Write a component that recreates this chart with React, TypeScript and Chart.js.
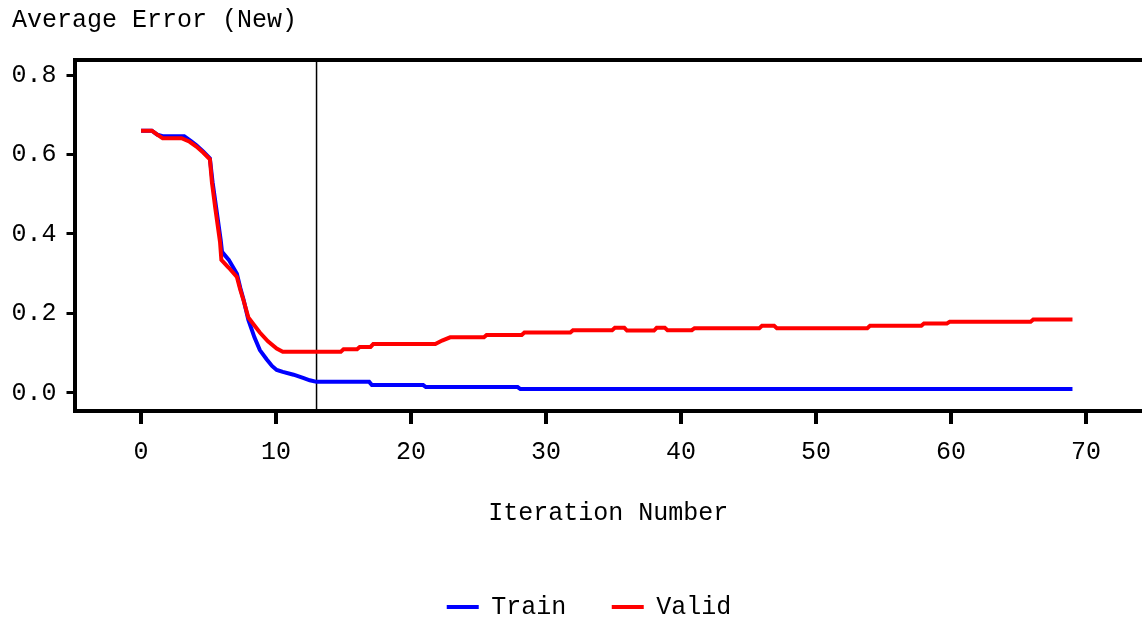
import React, { useEffect, useRef } from "react";
import { Chart, registerables } from "chart.js";

Chart.register(...registerables);

const chartTitle = "Average Error (New)";
const xAxisTitle = "Iteration Number";
const seriesNames = ["Train", "Valid"];
const seriesColors = ["#0000FF", "#FF0000"];

const xTicks = [0, 10, 20, 30, 40, 50, 60, 70];
const yTicks = [0.0, 0.2, 0.4, 0.6, 0.8];
const xRange = [-4.93, 74.15];
const yRange = [-0.0453, 0.839];
const stopIteration = 13;

const trainIter = [
  0, 0.8, 1.2, 1.6, 3.2, 3.7, 4.1, 4.6, 5.1, 5.3, 5.55, 5.9, 6.0, 6.5, 7.1, 7.35, 7.6, 7.95,
  8.4, 8.8, 9.3, 9.7, 10.05, 10.5, 11.3, 12.0, 12.5, 13.0, 16.9, 17.1, 20.9, 21.1, 27.9, 28.1, 69.0,
];
const trainError = [
  0.66, 0.66, 0.65, 0.646, 0.646, 0.634, 0.623, 0.608, 0.59, 0.53, 0.47, 0.385, 0.355, 0.335, 0.3,
  0.265, 0.234, 0.184, 0.14, 0.108, 0.085, 0.068, 0.058, 0.053, 0.046, 0.038, 0.032, 0.028, 0.028,
  0.02, 0.02, 0.015, 0.015, 0.01, 0.01,
];

const validIter = [
  0, 0.8, 1.2, 1.6, 3.0, 3.6, 4.1, 4.6, 5.1, 5.25, 5.5, 5.85, 5.95, 6.5, 7.1, 7.35, 7.6, 7.95, 8.4,
  8.8, 9.4, 10.05, 10.5, 14.8, 15.0, 16.0, 16.2, 17.0, 17.2, 21.8, 22.3, 22.9, 25.4, 25.6, 28.2,
  28.4, 31.8, 32.0, 34.9, 35.1, 35.8, 36.0, 38.0, 38.2, 38.8, 39.0, 40.8, 41.0, 45.8, 46.0, 46.9,
  47.1, 53.8, 54.0, 57.8, 58.0, 59.7, 59.9, 65.9, 66.1, 69.0,
];
const validError = [
  0.66, 0.66, 0.65, 0.641, 0.641, 0.632, 0.62, 0.605, 0.588, 0.53, 0.465, 0.38, 0.335, 0.315,
  0.292, 0.26, 0.232, 0.19, 0.17, 0.152, 0.13, 0.112, 0.104, 0.104, 0.11, 0.11, 0.116, 0.116,
  0.123, 0.123, 0.132, 0.14, 0.14, 0.146, 0.146, 0.152, 0.152, 0.158, 0.158, 0.164, 0.164, 0.157,
  0.157, 0.164, 0.164, 0.158, 0.158, 0.163, 0.163, 0.169, 0.169, 0.163, 0.163, 0.169, 0.169,
  0.175, 0.175, 0.179, 0.179, 0.185, 0.185,
];

const FONT = "'Liberation Mono', 'DejaVu Sans Mono', monospace";

const markerLine = {
  id: "markerLine",
  beforeDatasetsDraw(chart: any) {
    const { ctx, chartArea, scales } = chart;
    const px = scales.x.getPixelForValue(stopIteration);
    ctx.save();
    ctx.strokeStyle = "#000";
    ctx.lineWidth = 1.5;
    ctx.beginPath();
    ctx.moveTo(px, chartArea.top);
    ctx.lineTo(px, chartArea.bottom);
    ctx.stroke();
    ctx.restore();
  },
};

export default function App() {
  const ref = useRef<HTMLCanvasElement>(null);
  useEffect(() => {
    if (!ref.current) return;
    const toPts = (xs: number[], ys: number[]) => xs.map((x, i) => ({ x, y: ys[i] }));
    const chart = new Chart(ref.current, {
      type: "line",
      data: {
        datasets: [
          {
            label: seriesNames[0],
            data: toPts(trainIter, trainError),
            borderColor: seriesColors[0],
            backgroundColor: seriesColors[0],
            borderWidth: 4,
            pointRadius: 0,
            tension: 0,
            order: 1,
          },
          {
            label: seriesNames[1],
            data: toPts(validIter, validError),
            borderColor: seriesColors[1],
            backgroundColor: seriesColors[1],
            borderWidth: 4,
            pointRadius: 0,
            tension: 0,
            order: 0,
          },
        ],
      },
      options: {
        animation: false,
        responsive: false,
        events: [],
        layout: { padding: { left: 12, right: -24, top: 0, bottom: -11.5 } },
        scales: {
          x: {
            type: "linear",
            position: "bottom",
            min: xRange[0],
            max: xRange[1],
            afterBuildTicks: (s: any) => {
              s.ticks = xTicks.map((v) => ({ value: v }));
            },
            afterFit: (s: any) => {
              s.height = 138;
            },
            grid: { drawOnChartArea: false, color: "#000", lineWidth: 4, tickLength: 13 },
            border: { display: true, color: "#000", width: 4 },
            ticks: {
              color: "#000",
              font: { family: FONT, size: 25 },
              padding: 13.5,
              maxRotation: 0,
              autoSkip: false,
              callback: (v: any) => String(v),
            },
            title: {
              display: true,
              text: xAxisTitle,
              color: "#000",
              font: { family: FONT, size: 25 },
              padding: { top: 0, bottom: 21 },
            },
          },
          x2: {
            type: "linear",
            axis: "x",
            position: "top",
            min: xRange[0],
            max: xRange[1],
            afterFit: (s: any) => {
              s.height = 0;
            },
            grid: { display: false, drawTicks: false },
            ticks: { display: false },
            border: { display: true, color: "#000", width: 4 },
          },
          y: {
            type: "linear",
            position: "left",
            min: yRange[0],
            max: yRange[1],
            afterBuildTicks: (s: any) => {
              s.ticks = yTicks.map((v) => ({ value: v }));
            },
            afterFit: (s: any) => {
              s.width = 62.5;
            },
            grid: { drawOnChartArea: false, color: "#000", lineWidth: 3, tickLength: 8 },
            border: { display: true, color: "#000", width: 4 },
            ticks: {
              color: "#000",
              font: { family: FONT, size: 25 },
              padding: 10,
              callback: (v: any) => Number(v).toFixed(1),
            },
          },
        },
        plugins: {
          title: {
            display: true,
            text: chartTitle,
            align: "start",
            color: "#000",
            font: { family: FONT, size: 25, weight: "normal" },
            padding: { top: 5, bottom: 24.5 },
          },
          legend: {
            display: true,
            position: "bottom",
            labels: {
              color: "#000",
              font: { family: FONT, size: 25 },
              boxWidth: 32,
              boxHeight: 4,
              padding: 45.5,
              sort: (a: any, b: any) => a.datasetIndex - b.datasetIndex,
              generateLabels: (chart: any) =>
                Chart.defaults.plugins.legend.labels.generateLabels(chart).map((item: any) => ({
                  ...item,
                  fillStyle: seriesColors[item.datasetIndex],
                  strokeStyle: seriesColors[item.datasetIndex],
                  lineWidth: 0,
                })),
            },
          },
          tooltip: { enabled: false },
        },
      },
      plugins: [markerLine],
    });
    return () => chart.destroy();
  }, []);

  return (
    <div style={{ position: "absolute", left: 0, top: 0, width: 1142, height: 618, overflow: "hidden", background: "#fff" }}>
      <canvas ref={ref} width={1142} height={618} style={{ display: "block" }} />
    </div>
  );
}
